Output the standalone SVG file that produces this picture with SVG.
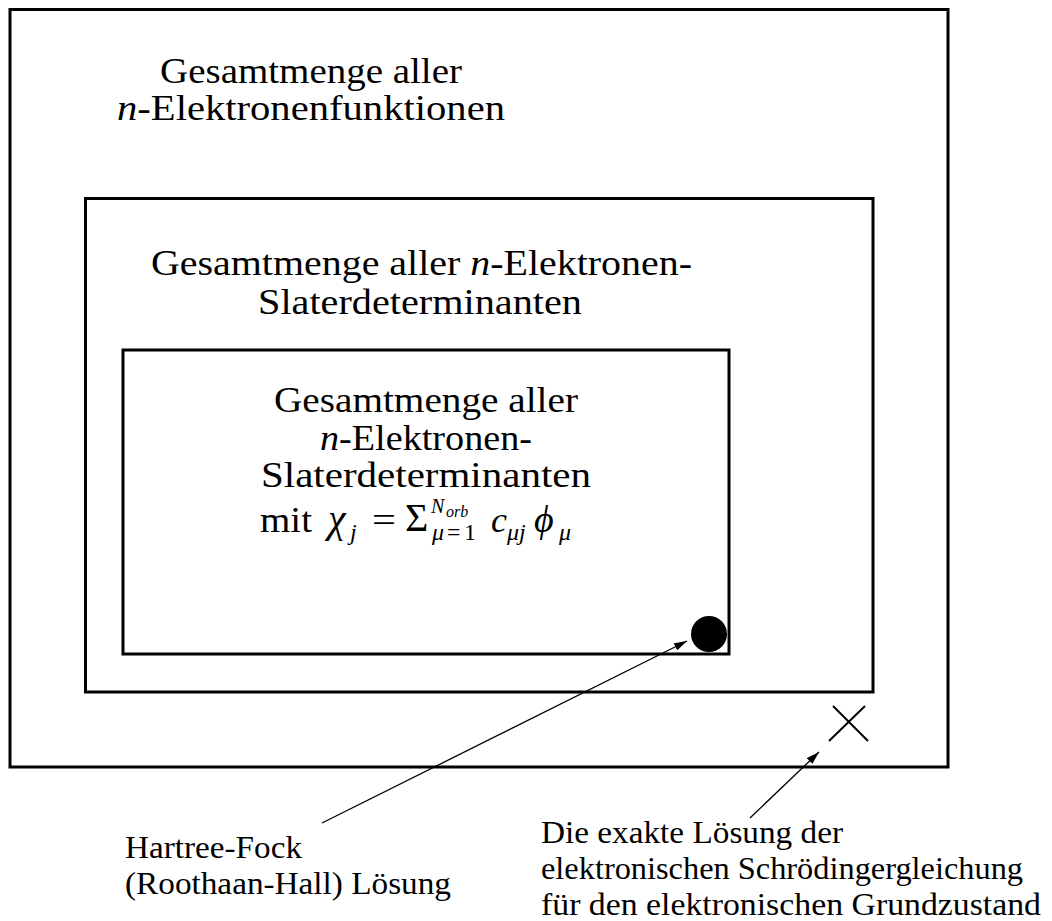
<svg xmlns="http://www.w3.org/2000/svg" width="1052" height="921" viewBox="0 0 1052 921">
<style>
.box{fill:none;stroke:#000;stroke-width:3}
.t{font-family:"Liberation Serif","Times New Roman",serif;fill:#000}
.m{font-size:36px}
.s{font-size:30.7px}
.i{font-style:italic}
.con{stroke:#000;stroke-width:1.3;fill:none}
</style>
<defs>
<marker id="ah" markerUnits="userSpaceOnUse" markerWidth="13" markerHeight="8" refX="13" refY="4" orient="auto">
<path d="M0,0 L13,4 L0,8 z" fill="#000"/>
</marker>
</defs>
<rect width="1052" height="921" fill="#fff"/>
<g id="outer-set">
<rect class="box" x="10" y="9.5" width="938" height="757.5"/>
<text class="t m" x="160" y="83" textLength="302" lengthAdjust="spacingAndGlyphs">Gesamtmenge aller</text>
<text class="t m" x="117" y="120" textLength="388" lengthAdjust="spacingAndGlyphs"><tspan class="i">n</tspan>-Elektronenfunktionen</text>
</g>
<g id="slater-set">
<rect class="box" x="85.5" y="198.5" width="787.5" height="493.5"/>
<text class="t m" x="151" y="275" textLength="541" lengthAdjust="spacingAndGlyphs">Gesamtmenge aller <tspan class="i">n</tspan>-Elektronen-</text>
<text class="t m" x="258" y="314" textLength="324" lengthAdjust="spacingAndGlyphs">Slaterdeterminanten</text>
</g>
<g id="basis-set">
<rect class="box" x="123" y="350" width="606" height="304"/>
<text class="t m" x="274" y="412" textLength="304" lengthAdjust="spacingAndGlyphs">Gesamtmenge aller</text>
<text class="t m" x="320" y="450" textLength="212" lengthAdjust="spacingAndGlyphs"><tspan class="i">n</tspan>-Elektronen-</text>
<text class="t m" x="261" y="487" textLength="330" lengthAdjust="spacingAndGlyphs">Slaterdeterminanten</text>
<text class="t m" x="260" y="532" textLength="52" lengthAdjust="spacingAndGlyphs">mit</text>
<text class="t i" x="328" y="532" font-size="40">χ</text>
<text class="t i" x="350" y="540" font-size="24">j</text>
<text class="t m" x="372" y="532" textLength="24" lengthAdjust="spacingAndGlyphs">=</text>
<text class="t" x="405" y="531" font-size="40">Σ</text>
<text class="t i" x="431" y="513" font-size="20">N</text>
<text class="t i" x="446" y="517" font-size="16">orb</text>
<text class="t" y="540" font-size="24"><tspan class="i" x="432">μ</tspan><tspan x="447">=</tspan><tspan x="464">1</tspan></text>
<text class="t i" x="491" y="532" font-size="36">c</text>
<text class="t i" x="507" y="540" font-size="24">μj</text>
<text class="t i" x="534" y="532" font-size="38">ϕ</text>
<text class="t i" x="559" y="540" font-size="24">μ</text>
</g>
<g id="hf-solution">
<circle cx="709" cy="634" r="18" fill="#000"/>
</g>
<g id="exact-solution">
<path d="M833,706 L868,741 M865,706 L829,741" stroke="#000" stroke-width="2" fill="none"/>
</g>
<g id="hf-label">
<text class="t s" x="125" y="858" textLength="177" lengthAdjust="spacingAndGlyphs">Hartree-Fock</text>
<text class="t s" x="125" y="894" textLength="326" lengthAdjust="spacingAndGlyphs">(Roothaan-Hall) Lösung</text>
</g>
<g id="exact-label">
<text class="t s" x="541" y="843" textLength="302" lengthAdjust="spacingAndGlyphs">Die exakte Lösung der</text>
<text class="t s" x="541" y="879" textLength="482" lengthAdjust="spacingAndGlyphs">elektronischen Schrödingergleichung</text>
<text class="t s" x="541" y="915" textLength="500" lengthAdjust="spacingAndGlyphs">für den elektronischen Grundzustand</text>
</g>
<g id="connectors">
<line class="con" x1="322" y1="823" x2="687" y2="641" marker-end="url(#ah)"/>
<line class="con" x1="750" y1="818" x2="819" y2="752" marker-end="url(#ah)"/>
</g>
</svg>
